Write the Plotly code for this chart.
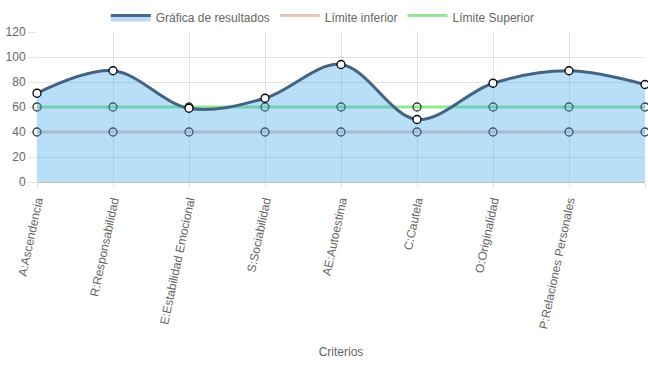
import plotly.graph_objects as go

categorias = ["A:Ascendencia", "R:Responsabilidad", "E:Estabilidad Emocional", "S:Sociabilidad",
              "AE:Autoestima", "C:Cautela", "O:Originalidad", "P:Relaciones Personales", "V:Vigor"]
resultados = [71, 89, 59, 67, 94, 50, 79, 89, 78]
limite_inferior = [40, 40, 40, 40, 40, 40, 40, 40, 40]
limite_superior = [60, 60, 60, 60, 60, 60, 60, 60, 60]
y_ticks = [0, 20, 40, 60, 80, 100, 120]

xs = list(range(len(categorias)))
FONT = "Liberation Sans, Arial, Helvetica, sans-serif"
GRAY = "#666666"

fig = go.Figure()

# limit lines (drawn beneath the translucent fill)
marker_lim = dict(size=8, color="rgba(0,0,0,0)", line=dict(color="rgb(55,55,60)", width=1.3))
fig.add_trace(go.Scatter(
    x=xs, y=limite_inferior, mode="lines+markers",
    line=dict(color="rgb(230,202,192)", width=3),
    marker=marker_lim, showlegend=False, cliponaxis=False))
fig.add_trace(go.Scatter(
    x=xs, y=limite_superior, mode="lines+markers",
    line=dict(color="rgb(144,232,144)", width=3),
    marker=marker_lim, showlegend=False, cliponaxis=False))

# main series with translucent fill
fig.add_trace(go.Scatter(
    x=xs, y=resultados, mode="lines", fill="tozeroy",
    fillcolor="rgba(54,162,235,0.35)",
    line=dict(color="rgb(66,99,132)", width=3, shape="spline", smoothing=1.0),
    showlegend=False, cliponaxis=False, hoverinfo="skip"))

# main series markers on top
fig.add_trace(go.Scatter(
    x=xs, y=resultados, mode="markers",
    marker=dict(size=8, color="white", line=dict(color="black", width=1.3)),
    showlegend=False, cliponaxis=False))

# legend entries
leg = [("Gráfica de resultados", "rgb(186,218,246)", "rgb(70,104,138)"),
       ("Límite inferior", "white", "rgb(228,200,190)"),
       ("Límite Superior", "white", "rgb(150,228,150)")]
for name, fc, lc in leg:
    fig.add_trace(go.Scatter(x=[None], y=[None], mode="lines", fill="toself",
                             fillcolor=fc, line=dict(color=lc, width=3), name=name))

fig.update_layout(
    width=648, height=365,
    margin=dict(l=37, r=3, t=32, b=183),
    paper_bgcolor="white", plot_bgcolor="white",
    font=dict(family=FONT, size=12, color=GRAY),
    legend=dict(orientation="h", x=0.47, xanchor="center", y=1.0, yanchor="bottom",
                font=dict(size=12, color=GRAY), itemwidth=40, tracegroupgap=0),
    xaxis=dict(
        tickmode="array", tickvals=xs, ticktext=categorias, tickangle=-78,
        range=[0, len(categorias) - 1], showgrid=True, gridcolor="rgba(0,0,0,0.1)",
        ticks="outside", ticklen=6, tickcolor="rgba(0,0,0,0.1)",
        showline=False, zeroline=False, automargin=False,
        title=dict(text="Criterios", font=dict(size=12, color=GRAY), standoff=18),
        tickfont=dict(size=12, color=GRAY)),
    yaxis=dict(
        range=[0, 120], tickvals=y_ticks, showgrid=True, gridcolor="rgba(0,0,0,0.1)",
        ticks="outside", ticklen=8, tickcolor="rgba(0,0,0,0.1)",
        zeroline=True, zerolinecolor="rgba(0,0,0,0.25)", zerolinewidth=1,
        showline=False, automargin=False, tickfont=dict(size=12, color=GRAY)),
)

fig.write_html("out.html", config={"displayModeBar": False},
               post_script="document.body.style.margin='0';")
